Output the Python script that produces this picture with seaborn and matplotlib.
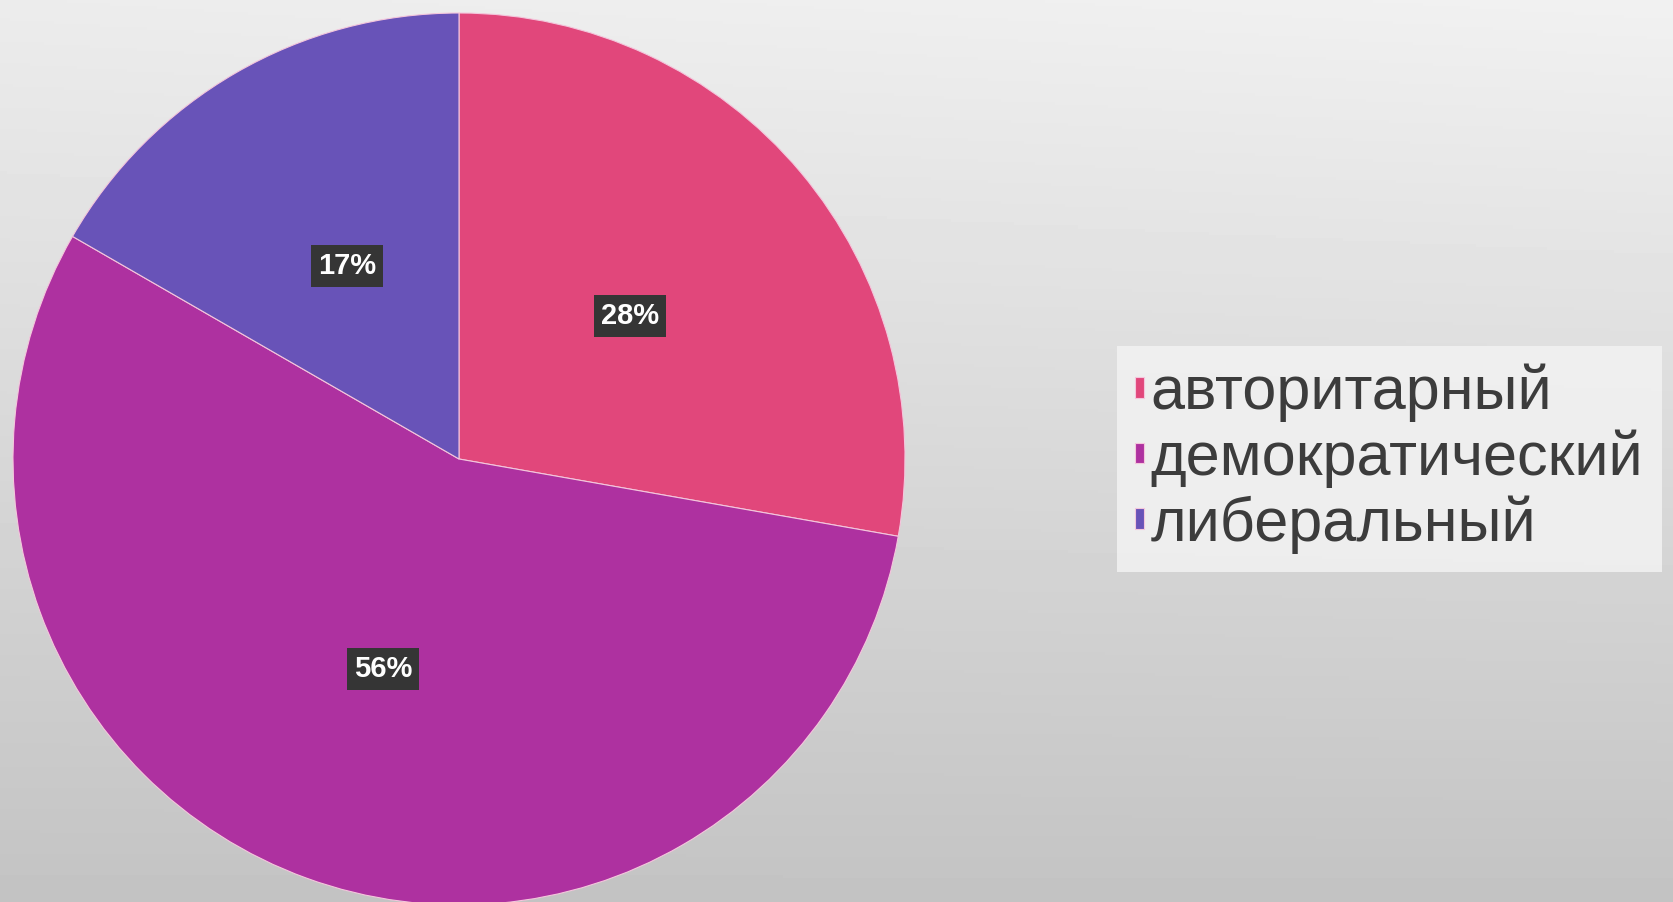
import numpy as np
import matplotlib
matplotlib.use("Agg")
import matplotlib.pyplot as plt
import seaborn as sns

# data
categories = ["авторитарный", "демократический", "либеральный"]
shares = [27.8, 55.6, 16.7]
colors = ["#E1477B", "#AE31A0", "#6853B8"]

sns.set_theme(style="white")
plt.rcParams["font.family"] = ["Liberation Sans", "DejaVu Sans"]

W, H, DPI = 1674, 902, 100
fig = plt.figure(figsize=(W / DPI, H / DPI), dpi=DPI)

# background gradient (light at top right, grey at bottom)
bg = fig.add_axes([0, 0, 1, 1], zorder=0)
yy, xx = np.mgrid[0:1:300j, 0:1:500j]
shade = 0.945 - 0.18 * yy - 0.04 * (1 - xx) * (1 - yy) * 0.5
bg.imshow(shade, cmap="gray", vmin=0, vmax=1, aspect="auto", extent=[0, 1, 1, 0])
bg.axis("off")

# pie
cx, cy, r = 459, 459, 446
ax = fig.add_axes([(cx - r) / W, (H - cy - r) / H, 2 * r / W, 2 * r / H], zorder=1)
wedges, texts, autotexts = ax.pie(
    shares, colors=colors, startangle=90, counterclock=False,
    autopct="%.0f%%", pctdistance=0.5,
    wedgeprops=dict(edgecolor="#f4c6dc", linewidth=0.8),
)
for t in autotexts:
    t.set_color("white")
    t.set_fontsize(21)
    t.set_fontweight("bold")
    t.set_family(["Liberation Sans Narrow", "Liberation Sans", "DejaVu Sans"])
    t.set_bbox(dict(facecolor="#353535", edgecolor="none", pad=5))
ax.set_xlim(-1, 1)
ax.set_ylim(-1, 1)
ax.set_aspect("equal")
ax.axis("off")

# legend
leg = fig.legend(
    wedges, categories, loc="center left",
    bbox_to_anchor=(1117 / W, 1 - 459 / H),
    fontsize=44, frameon=True, fancybox=False,
    handlelength=0.15, handleheight=0.15, handletextpad=0.1,
    labelspacing=0.12, borderpad=0.3, borderaxespad=0,
)
leg.get_frame().set_facecolor("#f1f1f1")
leg.get_frame().set_edgecolor("none")
leg.get_frame().set_alpha(0.9)
for t in leg.get_texts():
    t.set_color("#3c3c3c")

fig.savefig("out.png", dpi=DPI)
